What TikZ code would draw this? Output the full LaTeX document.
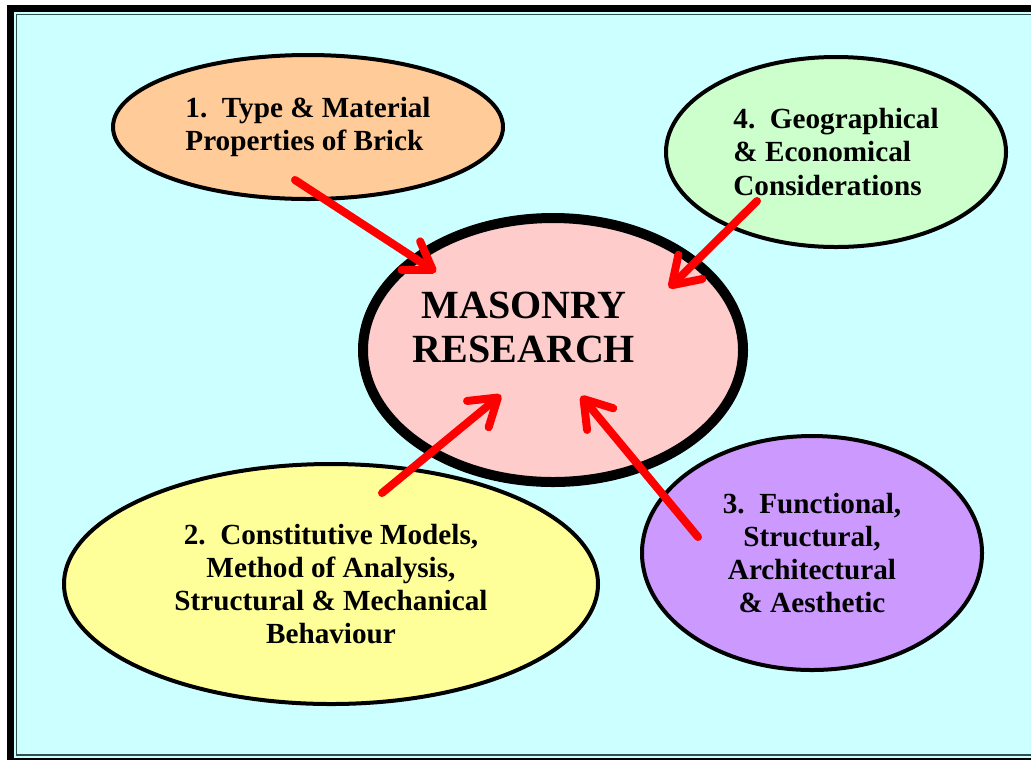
\documentclass[tikz,border=0pt]{standalone}
\usepackage{fontspec}
\setmainfont{Liberation Serif}
\usetikzlibrary{shapes.geometric,arrows.meta}

\definecolor{sky}{HTML}{CCFFFF}
\definecolor{peach}{HTML}{FFCC99}
\definecolor{mint}{HTML}{CCFFCC}
\definecolor{rose}{HTML}{FFCCCC}
\definecolor{lemon}{HTML}{FFFF99}
\definecolor{lilac}{HTML}{CC99FF}
\definecolor{rim}{HTML}{2F4F4F}

\begin{document}
\begin{tikzpicture}[
    x=0.5pt, y=-0.5pt,
    font=\bfseries\fontsize{14.6pt}{16.6pt}\selectfont,
    topic/.style={ellipse, draw=black, line width=2pt, inner sep=0pt, align=center},
    hub/.style={ellipse, draw=black, line width=5pt, inner sep=0pt},
    push/.style={draw=red, line width=4pt, line cap=round,
      -{Straight Barb[length=13pt, width=17pt, round]}},
  ]
  \useasboundingbox (0,0) rectangle (1031,762);
  \clip (0,0) rectangle (1031,762);

  % double frame, open to the right
  \fill[black] (7,5) rectangle (1040,760);
  \fill[sky] (14,12) rectangle (1040,757.5);
  \draw[rim, line width=0.8pt, fill=sky] (16.5,14.5) rectangle (1040,755);

  % the four topics and the hub
  \node[topic, fill=peach, minimum width=195pt, minimum height=72pt, align=left] (brick) at (308,127)
    {1.\ \ Type \& Material\\Properties of Brick};
  \node[topic, fill=mint, minimum width=170pt, minimum height=95pt, align=left] (econ) at (836,152)
    {4.\ \ Geographical\\\& Economical\\Considerations};
  \node[topic, fill=lemon, minimum width=267pt, minimum height=120pt] (models) at (331,584)
    {2.\ \ Constitutive Models,\\Method of Analysis,\\Structural \& Mechanical\\Behaviour};
  \node[topic, fill=lilac, minimum width=170pt, minimum height=117pt] (func) at (812,553)
    {3.\ \ Functional,\\Structural,\\Architectural\\\& Aesthetic};
  \node[hub, fill=rose, minimum width=190pt, minimum height=132pt] (core) at (553,350) {};
  \node[align=center, font=\bfseries\fontsize{20pt}{22pt}\selectfont] (title) at (524,327)
    {MASONRY\\RESEARCH};

  % arrows into the hub
  \coordinate (brick-tail) at (295,180);  \coordinate (brick-head) at (436,272);
  \coordinate (econ-tail) at (757,201);   \coordinate (econ-head) at (669,288);
  \coordinate (models-tail) at (382,493); \coordinate (models-head) at (501,395);
  \coordinate (func-tail) at (698,537);   \coordinate (func-head) at (581,396);
  \foreach \t in {brick, econ, models, func}
    \draw[push] (\t-tail) -- (\t-head);
\end{tikzpicture}
\end{document}
